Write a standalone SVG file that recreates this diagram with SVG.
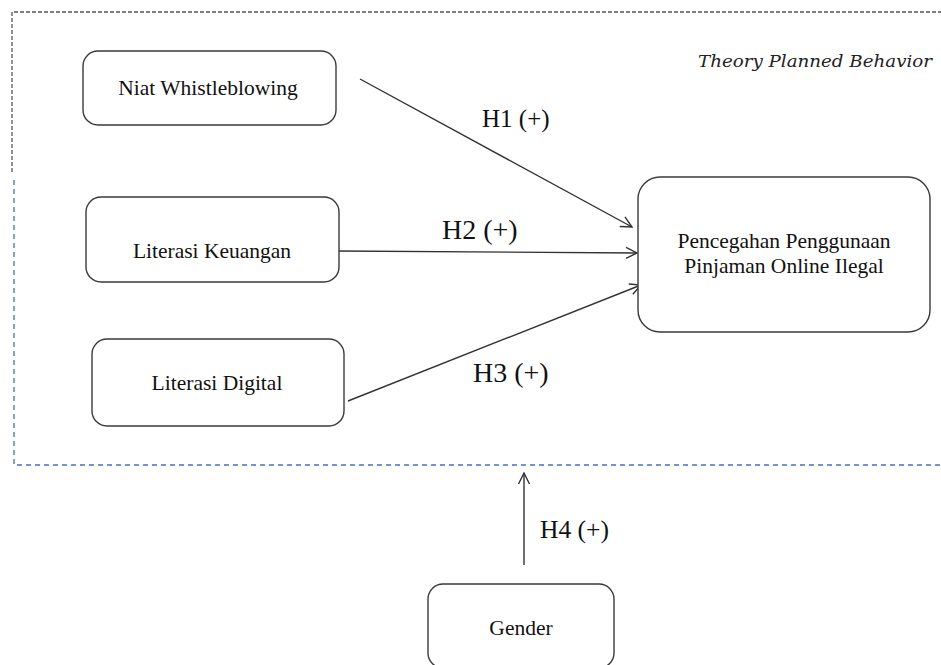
<svg xmlns="http://www.w3.org/2000/svg" width="941" height="665" viewBox="0 0 941 665">
<style>
.box{fill:#fff;stroke:#3a3a3a;stroke-width:1.4}
.t{font-family:"Liberation Serif","Times New Roman",serif;fill:#111;text-anchor:middle}
.n{font-size:21.5px}
.lbl{fill:#111;font-family:"Liberation Serif","Times New Roman",serif}
.edge{stroke:#333;stroke-width:1.4;fill:none;marker-end:url(#arr)}
</style>
<defs>
<marker id="arr" viewBox="-12 -7 14 14" refX="0" refY="0" markerWidth="14" markerHeight="14" markerUnits="userSpaceOnUse" orient="auto">
<path d="M-11,-5.5 L0,0 L-11,5.5" fill="none" stroke="#333" stroke-width="1.4"/>
</marker>
</defs>
<rect width="941" height="665" fill="#fff"/>
<g id="frame">
<path d="M12,172 V12 H941" fill="none" stroke="#555" stroke-width="1.3" stroke-dasharray="4 2"/>
<path d="M14,180 V465 H941" fill="none" stroke="#4472c4" stroke-width="1.3" stroke-dasharray="5 4"/>
<text x="932" y="67" text-anchor="end" font-family="'DejaVu Serif',serif" font-style="italic" font-size="17" fill="#222" textLength="234" lengthAdjust="spacingAndGlyphs">Theory Planned Behavior</text>
</g>
<g id="connectors">
<line class="edge" x1="360" y1="79" x2="632" y2="227"/>
<line class="edge" x1="338" y1="251" x2="637" y2="253"/>
<line class="edge" x1="348" y1="401" x2="641" y2="285"/>
<line class="edge" x1="524" y1="565" x2="524" y2="473"/>
<text class="lbl" x="482" y="127" font-size="25">H1 (+)</text>
<text class="lbl" x="442" y="239" font-size="28">H2 (+)</text>
<text class="lbl" x="473" y="382" font-size="28">H3 (+)</text>
<text class="lbl" x="540" y="538" font-size="25.5">H4 (+)</text>
</g>
<g id="niat">
<rect class="box" x="83" y="51" width="253" height="74" rx="15"/>
<text class="t n" x="208" y="95">Niat Whistleblowing</text>
</g>
<g id="keuangan">
<rect class="box" x="86" y="197" width="253" height="85" rx="15"/>
<text class="t n" x="212" y="258">Literasi Keuangan</text>
</g>
<g id="digital">
<rect class="box" x="92" y="339" width="252" height="87" rx="15"/>
<text class="t n" x="217" y="390">Literasi Digital</text>
</g>
<g id="pencegahan">
<rect class="box" x="638" y="177" width="292" height="155" rx="22"/>
<text class="t n" x="784" y="248">Pencegahan Penggunaan</text>
<text class="t n" x="784" y="273">Pinjaman Online Ilegal</text>
</g>
<g id="gender">
<rect class="box" x="428" y="584" width="186" height="84" rx="15"/>
<text class="t n" x="521" y="635">Gender</text>
</g>
</svg>
